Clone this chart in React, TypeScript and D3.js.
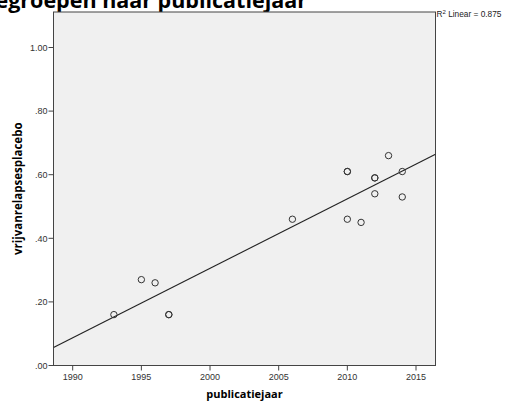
import React from "react";
import * as d3 from "d3";

// Publication year of each study and its placebo relapse-free proportion
const years = [1993, 1995, 1996, 1997, 1997, 2006, 2010, 2010, 2010, 2011, 2012, 2012, 2012, 2013, 2014, 2014];
const relapseFree = [0.16, 0.27, 0.26, 0.16, 0.16, 0.46, 0.61, 0.61, 0.46, 0.45, 0.59, 0.59, 0.54, 0.66, 0.61, 0.53];

const xTicks = [1990, 1995, 2000, 2005, 2010, 2015];
const yTicks = [0, 0.2, 0.4, 0.6, 0.8, 1.0];

const W = 505;
const H = 403;
const plot = { left: 53.5, right: 435.5, top: 12, bottom: 365.5 };

export default function App() {
  const x = d3.scaleLinear().domain([1990, 2015]).range([72.7, 416]);
  const y = d3.scaleLinear().domain([0, 1]).range([365.5, 47.5]);

  const xMin = x.invert(plot.left);
  const xMax = x.invert(plot.right);

  // Ordinary least squares fit
  const mx = d3.mean(years)!;
  const my = d3.mean(relapseFree)!;
  let sxy = 0, sxx = 0, syy = 0;
  years.forEach((yr, i) => {
    const dx = yr - mx;
    const dy = relapseFree[i] - my;
    sxy += dx * dy;
    sxx += dx * dx;
    syy += dy * dy;
  });
  const slope = sxy / sxx;
  const intercept = my - slope * mx;
  const r2 = (sxy * sxy) / (sxx * syy);

  const fitLine = d3.line<number>()
    .x((d) => x(d))
    .y((d) => y(intercept + slope * d));

  const yFmt = (v: number) => (v === 1 ? "1.00" : d3.format(".2f")(v).replace(/^0/, ""));

  const tickFont = "'Liberation Sans', Arial, sans-serif";

  return (
    <svg width={W} height={H} style={{ position: "absolute", left: 0, top: 0, background: "#fff" }}>
      <text
        x={307}
        y={7.5}
        textAnchor="end"
        fontFamily="'Open Sans', sans-serif"
        fontWeight="bold"
        fontSize={21.5}
        fill="#000"
      >
        gegroepen naar publicatiejaar
      </text>

      <rect
        x={plot.left}
        y={plot.top}
        width={plot.right - plot.left}
        height={plot.bottom - plot.top}
        fill="#f0f0f0"
        stroke="#444"
        strokeWidth={1}
      />

      <defs>
        <clipPath id="plotClip">
          <rect x={plot.left} y={plot.top} width={plot.right - plot.left} height={plot.bottom - plot.top} />
        </clipPath>
      </defs>
      <g clipPath="url(#plotClip)">
        <path d={fitLine([xMin, xMax]) ?? ""} fill="none" stroke="#222" strokeWidth={1.1} />
      </g>

      {years.map((yr, i) => (
        <circle
          key={i}
          cx={x(yr)}
          cy={y(relapseFree[i])}
          r={3.2}
          fill="none"
          stroke="#333"
          strokeWidth={1}
        />
      ))}

      {yTicks.map((t) => (
        <g key={t}>
          <line x1={plot.left - 5} x2={plot.left} y1={y(t)} y2={y(t)} stroke="#444" />
          <text
            x={plot.left - 6}
            y={y(t) + 3.2}
            textAnchor="end"
            fontFamily={tickFont}
            fontSize={9}
            fill="#333"
          >
            {yFmt(t)}
          </text>
        </g>
      ))}

      {xTicks.map((t) => (
        <g key={t}>
          <line x1={x(t)} x2={x(t)} y1={plot.bottom} y2={plot.bottom + 5} stroke="#444" />
          <text
            x={x(t)}
            y={380}
            textAnchor="middle"
            fontFamily={tickFont}
            fontSize={9}
            fill="#333"
          >
            {t}
          </text>
        </g>
      ))}

      <text
        x={244.5}
        y={398}
        textAnchor="middle"
        fontFamily="'Open Sans', sans-serif"
        fontWeight="bold"
        fontSize={11}
        fill="#000"
      >
        publicatiejaar
      </text>

      <text
        transform={`translate(22, ${(plot.top + plot.bottom) / 2}) rotate(-90)`}
        textAnchor="middle"
        fontFamily="'Open Sans', sans-serif"
        fontWeight="bold"
        fontSize={11.5}
        fill="#000"
      >
        vrijvanrelapsesplacebo
      </text>

      <text x={plot.right + 1} y={17} fontFamily={tickFont} fontSize={8.3} fill="#222">
        R<tspan dy={-3} fontSize={6}>2</tspan>
        <tspan dy={3}>{` Linear = ${r2.toFixed(3)}`}</tspan>
      </text>
    </svg>
  );
}
